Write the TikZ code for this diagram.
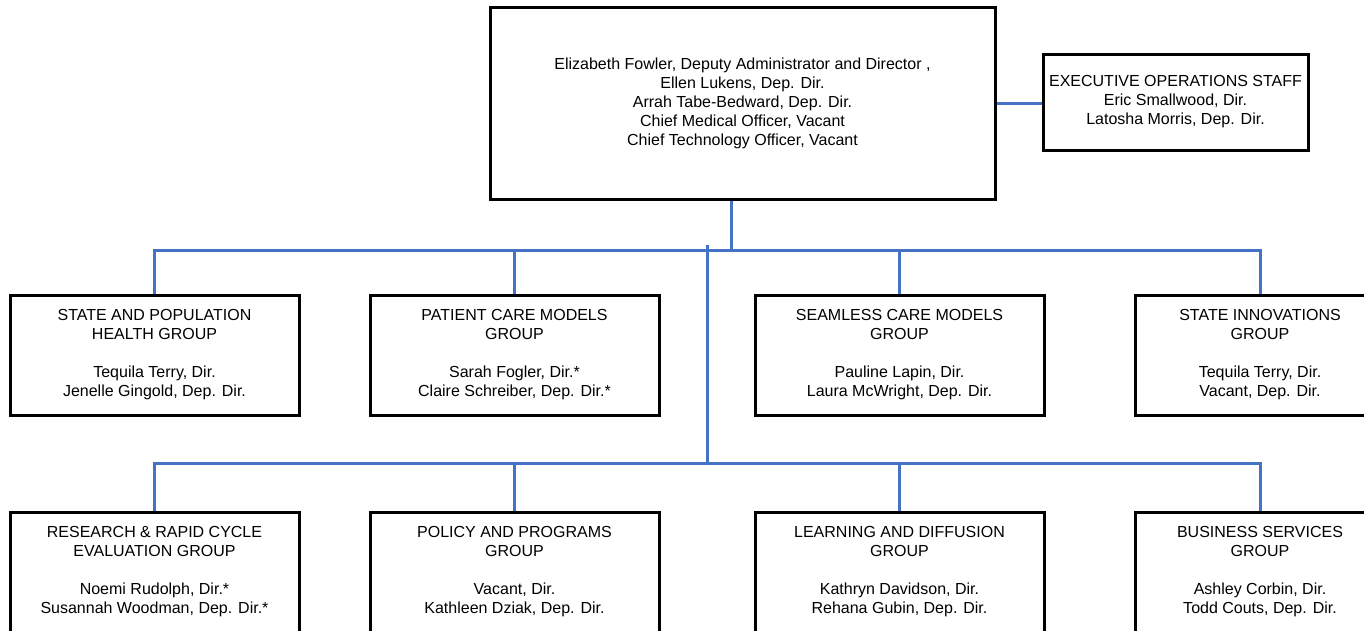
\documentclass[tikz,border=0pt]{standalone}
\usepackage{fontspec}
\setmainfont{Liberation Sans}
\definecolor{linkblue}{HTML}{4472C4}

\begin{document}
\begin{tikzpicture}[x=1pt, y=-1pt, font=\fontsize{16}{19}\selectfont,
  orgbox/.style={draw, line width=3pt, align=center, inner sep=2pt,
    minimum width=289pt, minimum height=120pt},
  link/.style={draw=linkblue, line width=3pt}]
  \useasboundingbox (0,0) rectangle (1364,630);
  \clip (0,0) rectangle (1364,630);

  % office and staff
  \node[orgbox, minimum width=505pt, minimum height=192pt] (office) at (742.5,103)
    {Elizabeth Fowler, Deputy Administrator and Director ,\\Ellen Lukens, Dep. Dir.\\
     Arrah Tabe-Bedward, Dep. Dir.\\Chief Medical Officer, Vacant\\Chief Technology Officer, Vacant};
  \node[orgbox, minimum width=265pt, minimum height=96pt] (execops) at (1175.5,102)
    {EXECUTIVE OPERATIONS STAFF\\Eric Smallwood, Dir.\\Latosha Morris, Dep. Dir.};

  % first row of groups
  \node[orgbox] (spop) at (154.5,355)
    {STATE AND POPULATION\\HEALTH GROUP\\[19pt]Tequila Terry, Dir.\\Jenelle Gingold, Dep. Dir.};
  \node[orgbox] (pcm) at (514.5,355)
    {PATIENT CARE MODELS\\GROUP\\[19pt]Sarah Fogler, Dir.*\\Claire Schreiber, Dep. Dir.*};
  \node[orgbox] (scm) at (899.5,355)
    {SEAMLESS CARE MODELS\\GROUP\\[19pt]Pauline Lapin, Dir.\\Laura McWright, Dep. Dir.};
  \node[orgbox, minimum width=250pt] (sinn) at (1260,355)
    {STATE INNOVATIONS\\GROUP\\[19pt]Tequila Terry, Dir.\\Vacant, Dep. Dir.};

  % second row of groups
  \node[orgbox] (rrce) at (154.5,572)
    {RESEARCH \& RAPID CYCLE\\EVALUATION GROUP\\[19pt]Noemi Rudolph, Dir.*\\Susannah Woodman, Dep. Dir.*};
  \node[orgbox] (pp) at (514.5,572)
    {POLICY AND PROGRAMS\\GROUP\\[19pt]Vacant, Dir.\\Kathleen Dziak, Dep. Dir.};
  \node[orgbox] (ld) at (899.5,572)
    {LEARNING AND DIFFUSION\\GROUP\\[19pt]Kathryn Davidson, Dir.\\Rehana Gubin, Dep. Dir.};
  \node[orgbox, minimum width=250pt] (bs) at (1260,572)
    {BUSINESS SERVICES\\GROUP\\[19pt]Ashley Corbin, Dir.\\Todd Couts, Dep. Dir.};

  \coordinate (hub) at (731,250);
  \coordinate (spine) at (707,245);
  \coordinate (hub2) at (707,463);

  % connectors
  \draw[link] (office.east) -- (office.east -| execops.west);
  \draw[link] (office.south -| hub) -- (hub);
  \draw[link] (spop.north) |- (hub) -| (sinn.north);
  \draw[link] (pcm.north) -- (pcm.north |- hub);
  \draw[link] (scm.north) -- (scm.north |- hub);
  \draw[link] (spine) -- (hub2);
  \draw[link] (rrce.north) |- (hub2) -| (bs.north);
  \draw[link] (pp.north) -- (pp.north |- hub2);
  \draw[link] (ld.north) -- (ld.north |- hub2);
\end{tikzpicture}
\end{document}
